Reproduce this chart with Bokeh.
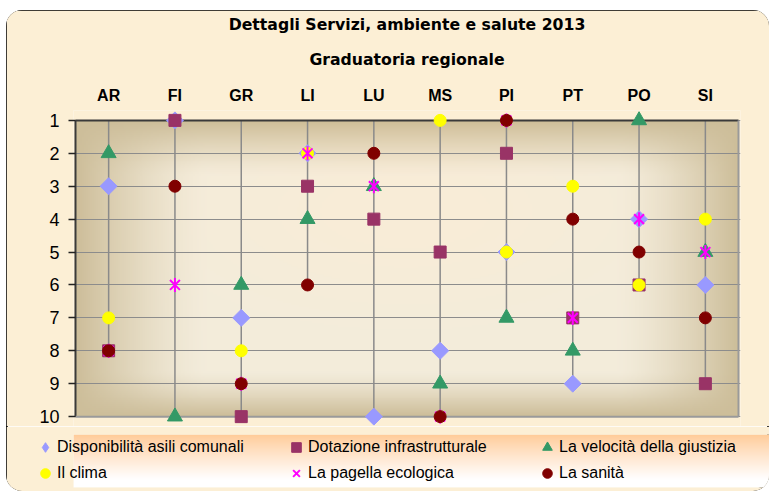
import numpy as np
from bokeh.plotting import figure
from bokeh.layouts import column
from bokeh.models import (FactorRange, Range1d, FixedTicker, Title, Legend, LegendItem)
from bokeh.embed import file_html
from bokeh.resources import INLINE

# ---------------- data ----------------
provinces = ["AR", "FI", "GR", "LI", "LU", "MS", "PI", "PT", "PO", "SI"]
rank_ticks = [1, 2, 3, 4, 5, 6, 7, 8, 9, 10]
asili = [3, 1, 7, 2, 10, 8, 5, 9, 4, 6]            # Disponibilità asili comunali
infra = [8, 1, 10, 3, 4, 5, 2, 7, 6, 9]            # Dotazione infrastrutturale
giustizia = [2, 10, 6, 4, 3, 9, 7, 8, 1, 5]        # La velocità della giustizia
clima = [7, np.nan, 8, 2, np.nan, 1, 5, 3, 6, 4]   # Il clima
pagella = [8, 6, 9, 2, 3, 10, 1, 7, 4, 5]          # La pagella ecologica
sanita = [8, 3, 9, 6, 2, 10, 1, 4, 5, 7]           # La sanità

series_names = ["Disponibilità asili comunali", "Dotazione infrastrutturale",
                "La velocità della giustizia", "Il clima",
                "La pagella ecologica", "La sanità"]
title1 = "Dettagli Servizi, ambiente e salute 2013"
title2 = "Graduatoria regionale"

n = len(provinces)
rmin, rmax = min(rank_ticks), max(rank_ticks)
CREAM = "#FCEFD5"

# marker styles per series (plot) and for the legend swatches
STY = [
    [dict(marker="square", angle=np.pi / 4, fill_color="#9999FF", line_color="#9999FF")],
    [dict(marker="square", fill_color="#993366", line_color="#993366")],
    [dict(marker="triangle", fill_color="#339966", line_color="#339966")],
    [dict(marker="circle", fill_color="#FFFF00", line_color="#FFFF00")],
    [dict(marker="x", line_color="#FF00FF", line_width=2),
     dict(marker="dash", angle=np.pi / 2, line_color="#FF00FF", line_width=2)],
    [dict(marker="circle", fill_color="#800000", line_color="#800000")],
]
LEG_STY = [
    [dict(marker="diamond", fill_color="#9999FF", line_color="#9999FF")],
    [dict(marker="square", fill_color="#993366", line_color="#993366")],
    [dict(marker="triangle", fill_color="#339966", line_color="#339966")],
    [dict(marker="circle", fill_color="#FFFF00", line_color="#FFFF00")],
    [dict(marker="x", line_color="#FF00FF", line_width=2)],
    [dict(marker="circle", fill_color="#800000", line_color="#800000")],
]
SIZES = [12, 12, 15, 12, 14, 12]

p = figure(x_range=FactorRange(factors=provinces, range_padding=0.03,
                               range_padding_units="absolute"),
           y_range=Range1d(rmax + 0.3, rmin - 0.3),
           x_axis_location="above",
           frame_width=667, frame_height=316,
           min_border_left=67, min_border_right=29,
           min_border_top=100, min_border_bottom=0,
           output_backend="svg", toolbar_location=None,
           background_fill_color=CREAM, border_fill_color=CREAM)
p.outline_line_color = None

# ---------- titles ----------
p.title.text = title1
p.title.align = "center"
p.title.offset = 11
p.title.standoff = 0
p.title.text_font = "DejaVu Sans"
p.title.text_font_style = "bold"
p.title.text_font_size = "15.7px"
p.title.text_color = "#000000"
p.add_layout(Title(text=title2, align="center", offset=11, standoff=29,
                   text_font="DejaVu Sans", text_font_style="bold",
                   text_font_size="15.7px", text_color="#000000"), "above")

# ---------- plot-area gradient (decoration) ----------
H, W = 150, 334
yy, xx = np.mgrid[0:H, 0:W].astype(float)
px = xx / (W - 1) * 663.0
py = yy / (H - 1) * 296.0
def ramp(d, w, g):
    return np.clip(1 - d / w, 0, 1) ** g
fl = ramp(px, 130, 1.4)
fr = ramp(663 - px, 120, 1.4)
ft = ramp(py, 55, 1.3)
fb = ramp(296 - py, 45, 1.3)
f = 1 - (1 - fl) * (1 - fr) * (1 - ft) * (1 - fb)
L = np.array([243, 236, 219.0])
D = np.array([205, 190, 154.0])
rgb = L[None, None, :] * (1 - f[..., None]) + D[None, None, :] * f[..., None]
glow = np.exp(-(((px - 330) / 200) ** 2 + ((py - 90) / 90) ** 2))
rgb[..., 0] += 6 * glow
rgb[..., 2] -= 4 * glow
rgb = np.clip(rgb, 0, 255)
img = np.empty((H, W), dtype=np.uint32)
view = img.view(dtype=np.uint8).reshape((H, W, 4))
view[..., 0] = rgb[..., 0]
view[..., 1] = rgb[..., 1]
view[..., 2] = rgb[..., 2]
view[..., 3] = 255
p.image_rgba(image=[img], x=n / 2, y=(rmin + rmax) / 2, dw=n, dh=rmax - rmin,
             anchor="center", level="image")

# ---------- grid / axes ----------
p.xgrid.visible = False
p.ygrid.ticker = FixedTicker(ticks=rank_ticks)
p.ygrid.grid_line_color = "#8c8c8c"
p.ygrid.grid_line_width = 1

p.yaxis.ticker = FixedTicker(ticks=rank_ticks)
p.yaxis.axis_line_color = None
p.yaxis.major_tick_out = 5
p.yaxis.major_tick_in = 2
p.yaxis.major_tick_line_color = "#222222"
p.yaxis.major_tick_line_width = 1.5
p.yaxis.minor_tick_line_color = None
p.yaxis.major_label_standoff = 9
p.yaxis.major_label_text_font = "Liberation Sans"
p.yaxis.major_label_text_font_size = "18px"
p.yaxis.major_label_text_color = "#000000"

p.xaxis.axis_line_color = None
p.xaxis.major_tick_line_color = None
p.xaxis.major_tick_out = 0
p.xaxis.major_label_standoff = 7
p.xaxis.major_label_text_font = "Liberation Sans"
p.xaxis.major_label_text_font_style = "bold"
p.xaxis.major_label_text_font_size = "16px"
p.xaxis.major_label_text_color = "#000000"

# ---------- drop lines from the top to each province's worst rank ----------
all_series = [asili, infra, giustizia, clima, pagella, sanita]
worst = [int(np.nanmax([s[i] for s in all_series])) for i in range(n)]
p.segment(x0=provinces, y0=[rmin] * n, x1=provinces, y1=worst,
          line_color="#8a8a8a", line_width=1.5)

# ---------- plot-area border ----------
p.segment(x0=[0, 0], y0=[rmin, rmin], x1=[0, n], y1=[rmax, rmin],
          line_color="#3a3a3a", line_width=2)
p.segment(x0=[n, 0], y0=[rmin, rmax], x1=[n, n], y1=[rmax, rmax],
          line_color="#9a9a9a", line_width=2)

# ---------- series ----------
for vals, stys, sz in zip(all_series, STY, SIZES):
    for st in stys:
        p.scatter(provinces, vals, size=sz, **st)

# ---------- legend strip (second figure, gradient band) ----------
q = figure(x_range=Range1d(0, 1), y_range=Range1d(0, 1),
           frame_width=754, frame_height=53,
           min_border_left=7, min_border_right=2, min_border_top=8,
           min_border_bottom=4, output_backend="svg", toolbar_location=None,
           background_fill_color=CREAM, border_fill_color=CREAM)
q.outline_line_color = None
q.axis.visible = False
q.grid.visible = False

BH = 53
t = np.linspace(1, 0, BH)[:, None] * np.ones((1, 8))   # row 0 = bottom
tt = np.clip(t / 0.85, 0, 1) ** 0.9
c0 = np.array([255, 204, 153.0])
band = np.empty((BH, 8), dtype=np.uint32)
bv = band.view(dtype=np.uint8).reshape((BH, 8, 4))
for ch in range(3):
    bv[..., ch] = np.clip(255 - (255 - c0[ch]) * (1 - tt), 0, 255)
bv[..., 3] = 255
q.image_rgba(image=[band], x=0, y=0, dw=1, dh=1, level="image")

# legend-only swatches (no visible points)
items = []
for name, stys in zip(series_names, LEG_STY):
    rs = [q.scatter(x=[np.nan], y=[np.nan], size=10, **st) for st in stys]
    items.append(LegendItem(label=name, renderers=rs))

legend = Legend(items=items, location=(24, 2), orientation="horizontal",
                ncols=3, nrows=2, background_fill_alpha=0, border_line_color=None,
                padding=0, spacing=2, glyph_width=24, glyph_height=24,
                label_width=225, label_height=20, label_standoff=0,
                label_text_font="Liberation Sans", label_text_font_size="16px",
                label_text_color="#000000", margin=0)
q.add_layout(legend)

layout = column(p, q, spacing=0)
layout.styles = {"margin-left": "6px", "margin-top": "10px",
                 "outline": "2px solid #000000", "outline-offset": "-2px",
                 "border-radius": "16px", "overflow": "hidden"}

open("out.html", "w").write(file_html(layout, INLINE))
